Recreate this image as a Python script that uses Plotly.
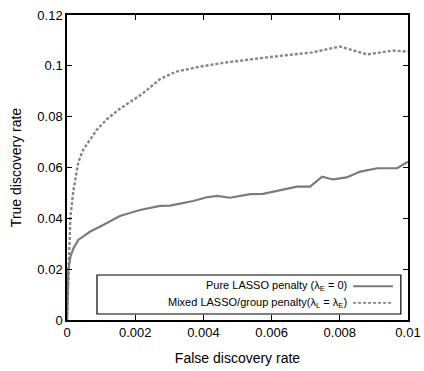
import plotly.graph_objects as go

# ---- data ----
fdr_lasso = [0, 0.00004, 0.0001, 0.00019, 0.00033, 0.00067, 0.00106, 0.00155, 0.00214,
             0.00273, 0.00302, 0.0037, 0.0041, 0.0044, 0.00478, 0.00537, 0.00575, 0.00604,
             0.00645, 0.00674, 0.00713, 0.00748, 0.0078, 0.0082, 0.0086, 0.0091, 0.00968, 0.01]
tdr_lasso = [0, 0.0197, 0.0249, 0.0282, 0.0315, 0.0347, 0.0374, 0.0409, 0.0433,
             0.0449, 0.0450, 0.0468, 0.0483, 0.0488, 0.0481, 0.0495, 0.0496, 0.0505,
             0.0518, 0.0525, 0.0525, 0.0564, 0.0553, 0.0561, 0.0584, 0.0597, 0.0597, 0.0623]

fdr_mixed = [0, 0.00005, 0.0001, 0.00019, 0.00033, 0.00047, 0.00067, 0.00087, 0.00117,
             0.0015, 0.00194, 0.00223, 0.00273, 0.0032, 0.0039, 0.0047, 0.00604, 0.0072,
             0.008, 0.0088, 0.00956, 0.01]
tdr_mixed = [0, 0.025, 0.0407, 0.0511, 0.0620, 0.0669, 0.0710, 0.0748, 0.0790,
             0.0826, 0.0866, 0.0892, 0.0948, 0.0977, 0.0997, 0.1014, 0.1036, 0.1053,
             0.1076, 0.1045, 0.1060, 0.1056]

x_ticks = [0, 0.002, 0.004, 0.006, 0.008, 0.01]
x_labels = ["0", "0.002", "0.004", "0.006", "0.008", "0.01"]
y_ticks = [0, 0.02, 0.04, 0.06, 0.08, 0.1, 0.12]
y_labels = ["0", "0.02", "0.04", "0.06", "0.08", "0.1", "0.12"]

legend_names = ["Pure LASSO penalty (λ<sub>E</sub> = 0)",
                "Mixed LASSO/group penalty(λ<sub>L</sub> = λ<sub>E</sub>)"]

FONT = "Liberation Sans, Arial, Helvetica, sans-serif"
C_SOLID = "#7b7b7b"
C_DASH = "#858585"

fig = go.Figure()
fig.add_trace(go.Scatter(x=fdr_mixed, y=tdr_mixed, mode="lines",
                         line=dict(color=C_DASH, width=2.4, dash="3px,2px"),
                         showlegend=False))
fig.add_trace(go.Scatter(x=fdr_lasso, y=tdr_lasso, mode="lines",
                         line=dict(color=C_SOLID, width=2.2),
                         showlegend=False))

axis_common = dict(showline=True, linecolor="black", linewidth=1.5, mirror="ticks",
                   ticks="inside", ticklen=5, tickwidth=1, tickcolor="black",
                   showgrid=False, zeroline=False, automargin=False,
                   tickfont=dict(family=FONT, size=13, color="black"))

fig.update_xaxes(range=[0, 0.01], tickvals=x_ticks, ticktext=x_labels,
                 title=dict(text="False discovery rate", font=dict(family=FONT, size=14, color="black"),
                            standoff=14),
                 **axis_common)
fig.update_yaxes(range=[0, 0.12], tickvals=y_ticks, ticktext=y_labels,
                 title=dict(text="True discovery rate", font=dict(family=FONT, size=14, color="black"),
                            standoff=12),
                 **axis_common)

# manual legend (text right-aligned, sample line on the right)
fig.add_shape(type="rect", xref="paper", yref="paper", x0=0.088, x1=0.979, y0=0.0197, y1=0.1475,
              line=dict(color="black", width=1.2), fillcolor="white", layer="above")
rows = [(0.111, C_SOLID, "solid"), (0.056, C_DASH, "3px,2px")]
for (yy, col, dash), name in zip(rows, legend_names):
    fig.add_annotation(xref="paper", yref="paper", x=0.826, y=yy, text=name, showarrow=False,
                       xanchor="right", yanchor="middle",
                       font=dict(family=FONT, size=11, color="black"))
    fig.add_shape(type="line", xref="paper", yref="paper", x0=0.839, x1=0.956, y0=yy, y1=yy,
                  line=dict(color=col, width=2 if dash == "solid" else 1.6, dash=dash), layer="above")

fig.update_layout(width=424, height=371, margin=dict(l=67, r=16, t=15, b=51),
                  plot_bgcolor="white", paper_bgcolor="white",
                  font=dict(family=FONT, color="black"))

fig.write_html("out.html", config={"displayModeBar": False},
               post_script="document.body.style.margin='0';document.body.style.overflow='hidden';")
